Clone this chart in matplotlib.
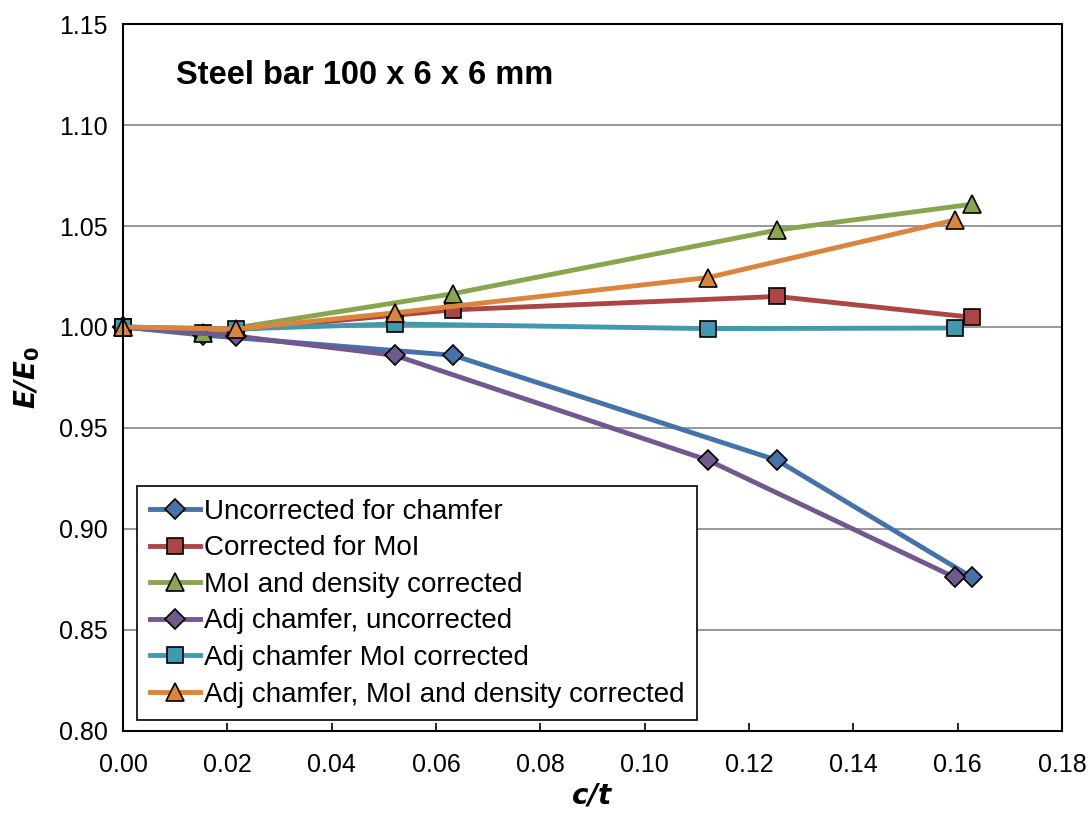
import numpy as np
import matplotlib.pyplot as plt

plt.rcParams['font.family'] = ['Liberation Sans', 'DejaVu Sans']

# chamfer ratio c/t for the two sets of runs
ct_a = [0.0, 0.0153, 0.0633, 0.1254, 0.1628]
ct_b = [0.0, 0.0217, 0.0521, 0.1122, 0.1595]

uncorr = [1.000, 0.996, 0.986, 0.934, 0.876]
corr_moi = [1.000, 0.997, 1.0085, 1.0151, 1.0048]
moi_dens = [1.000, 0.997, 1.0165, 1.048, 1.0608]
adj_uncorr = [1.000, 0.9955, 0.986, 0.934, 0.876]
adj_moi = [1.000, 0.999, 1.0015, 0.9992, 0.9995]
adj_moi_dens = [1.000, 0.999, 1.007, 1.0245, 1.053]

series = [
    (ct_a, uncorr, 'Uncorrected for chamfer', '#4572A7', 'D', 10),
    (ct_a, corr_moi, 'Corrected for MoI', '#AA4643', 's', 11.5),
    (ct_a, moi_dens, 'MoI and density corrected', '#89A54E', '^', 12.5),
    (ct_b, adj_uncorr, 'Adj chamfer, uncorrected', '#71588F', 'D', 10),
    (ct_b, adj_moi, 'Adj chamfer MoI corrected', '#4198AF', 's', 11.5),
    (ct_b, adj_moi_dens, 'Adj chamfer, MoI and density corrected', '#DB843D', '^', 12.5),
]

fig = plt.figure(figsize=(10.91, 8.14), dpi=100)
ax = fig.add_axes([0.1127, 0.102, 0.8607, 0.8685])

for x, y, lab, c, m, ms in series:
    ax.plot(x, y, color=c, lw=3.5, marker=m, ms=ms, mfc=c, mec='black',
            mew=1.2, label=lab, clip_on=False)

ax.set_xlim(0, 0.18)
ax.set_ylim(0.80, 1.15)
ax.set_xticks(np.arange(0, 0.181, 0.02))
ax.set_yticks(np.arange(0.80, 1.151, 0.05))
ax.xaxis.set_major_formatter(plt.FormatStrFormatter('%.2f'))
ax.yaxis.set_major_formatter(plt.FormatStrFormatter('%.2f'))
ax.tick_params(axis='x', direction='in', length=6, width=1.2, labelsize=18, pad=16)
ax.tick_params(axis='y', length=0, labelsize=18, pad=11)
ax.grid(axis='y', color='#868686', lw=1.2)
ax.set_axisbelow(True)
for s in ax.spines.values():
    s.set_linewidth(1.5)

ax.set_xlabel('$\\bfit{c/t}$', fontsize=20, labelpad=4)
ax.set_ylabel('$\\bfit{E/E}_\\mathbf{0}$', fontsize=20, labelpad=12)

ax.text(0.0564, 0.915, 'Steel bar 100 x 6 x 6 mm', transform=ax.transAxes,
        fontsize=23.5, fontweight='bold', va='baseline')

leg = ax.legend(loc='lower left', bbox_to_anchor=(0.015, 0.0155), fontsize=20,
                frameon=True, fancybox=False, borderpad=0.45, labelspacing=0.38,
                handlelength=1.8, handletextpad=0.15, borderaxespad=0)
leg.get_frame().set_edgecolor('black')
leg.get_frame().set_linewidth(1.2)
leg.get_frame().set_alpha(1)

fig.savefig('out.png', dpi=100)
